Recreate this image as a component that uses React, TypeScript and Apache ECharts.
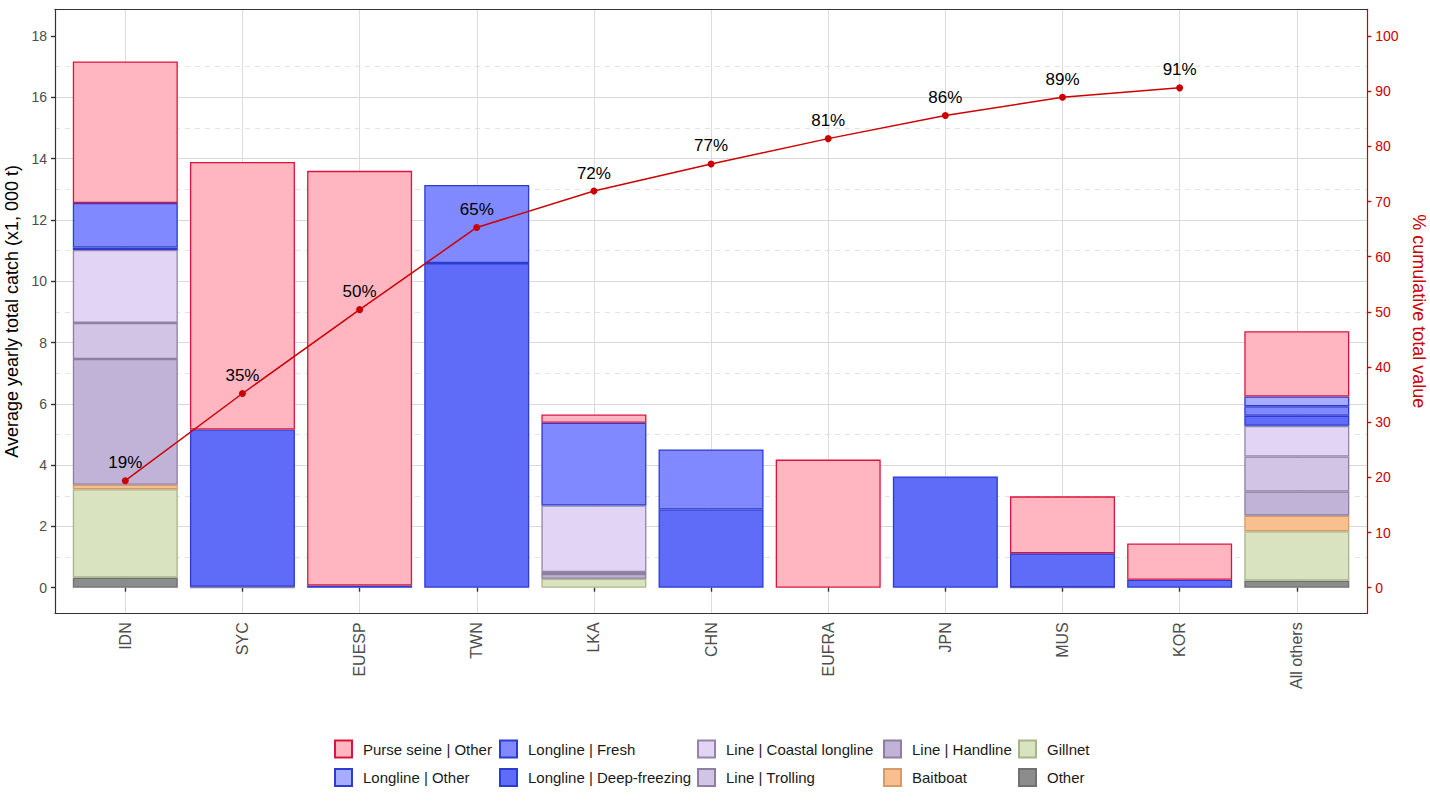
import React, { useEffect, useRef } from 'react';
import * as echarts from 'echarts';

const categories = ['IDN', 'SYC', 'EUESP', 'TWN', 'LKA', 'CHN', 'EUFRA', 'JPN', 'MUS', 'KOR', 'All others'];

const purseSeineOther = [4.62, 8.73, 13.53, null, 0.27, null, 4.18, null, 1.86, 1.18, 2.13];
const longlineOther = [null, null, null, null, null, null, null, null, null, null, 0.32];
const longlineFresh = [1.45, null, null, 2.55, 2.7, 1.96, null, null, null, null, 0.31];
const longlineDeepFreezing = [0.08, 5.13, 0.07, 10.59, null, 2.55, null, 3.63, 1.11, 0.26, 0.33];
const lineCoastalLongline = [2.38, null, null, null, 2.17, null, null, null, null, null, 1.0];
const lineTrolling = [1.18, 0.02, null, null, 0.06, null, null, null, 0.01, null, 1.14];
const lineHandline = [4.1, 0.01, null, null, 0.16, null, null, null, null, null, 0.79];
const baitboat = [0.15, null, null, null, null, null, null, null, null, null, 0.51];
const gillnet = [2.88, null, null, null, 0.29, null, null, null, null, null, 1.61];
const other = [0.33, null, null, null, null, null, null, null, null, null, 0.23];

const cumulativePct = [19.4, 35.2, 50.4, 65.3, 71.9, 76.8, 81.4, 85.6, 88.9, 90.6, null];

const leftTicks = [0, 2, 4, 6, 8, 10, 12, 14, 16, 18];
const rightTicks = [0, 10, 20, 30, 40, 50, 60, 70, 80, 90, 100];

const FONT = '"Liberation Sans", Arial, sans-serif';
const RED = '#CC0000';

// stacking order bottom -> top
const barSeries = [
  { name: 'Other', data: other, fill: '#8C8C8C', border: '#707070' },
  { name: 'Gillnet', data: gillnet, fill: '#D9E3BF', border: '#A9B48A' },
  { name: 'Baitboat', data: baitboat, fill: '#F9C08F', border: '#D79A68' },
  { name: 'Line | Handline', data: lineHandline, fill: '#C1B3D8', border: '#8D7FA0' },
  { name: 'Line | Trolling', data: lineTrolling, fill: '#D1C4E5', border: '#8D7FA0' },
  { name: 'Line | Coastal longline', data: lineCoastalLongline, fill: '#E1D4F5', border: '#9485A8' },
  { name: 'Longline | Deep-freezing', data: longlineDeepFreezing, fill: '#5F6CF8', border: '#2C3BD0' },
  { name: 'Longline | Fresh', data: longlineFresh, fill: '#8089FF', border: '#2C3BD0' },
  { name: 'Longline | Other', data: longlineOther, fill: '#A6ADFF', border: '#2C3BD0' },
  { name: 'Purse seine | Other', data: purseSeineOther, fill: '#FFB6C1', border: '#DC143C' },
];

const legendColumns = [
  ['Purse seine | Other', 'Longline | Other'],
  ['Longline | Fresh', 'Longline | Deep-freezing'],
  ['Line | Coastal longline', 'Line | Trolling'],
  ['Line | Handline', 'Baitboat'],
  ['Gillnet', 'Other'],
];
const legendLefts = [334, 499, 697, 883, 1018];

// pixel geometry of the panel
const PANEL_LEFT = 55;
const PANEL_RIGHT = 1367.3;
const PANEL_TOP = 9.3;
const PANEL_BOTTOM = 613.3;
const ZERO_Y = 587.7;
const PX_PER_UNIT = 30.65;
const PX_PER_PCT = PX_PER_UNIT * 0.18;
const FIRST_CENTER = 125.3;
const LAST_CENTER = 1296.8;
const W = 1430;
const H = 804;

const yMin = -(PANEL_BOTTOM - ZERO_Y) / PX_PER_UNIT;
const yMax = (ZERO_Y - PANEL_TOP) / PX_PER_UNIT;
const pMin = -(PANEL_BOTTOM - ZERO_Y) / PX_PER_PCT;
const pMax = (ZERO_Y - PANEL_TOP) / PX_PER_PCT;

export default function App() {
  const ref = useRef<HTMLDivElement>(null);

  useEffect(() => {
    document.body.style.margin = '0';
    const chart = echarts.init(ref.current!, null, { renderer: 'svg' });

    const gridA = {
      left: PANEL_LEFT, right: W - PANEL_RIGHT, top: PANEL_TOP, bottom: H - PANEL_BOTTOM,
      outerBoundsMode: 'none', containLabel: false,
    };
    const gridB = {
      left: FIRST_CENTER, right: W - LAST_CENTER, top: PANEL_TOP, bottom: H - PANEL_BOTTOM,
      outerBoundsMode: 'none', containLabel: false,
    };
    const gridC = {
      left: PANEL_LEFT,
      right: W - PANEL_RIGHT,
      top: ZERO_Y - 19 * PX_PER_UNIT,
      bottom: H - (ZERO_Y + PX_PER_UNIT),
      outerBoundsMode: 'none', containLabel: false,
    };

    const option: any = {
      animation: false,
      textStyle: { fontFamily: FONT },
      grid: [gridA, gridB, gridC],
      legend: legendColumns.map((names, i) => ({
        orient: 'vertical',
        left: legendLefts[i],
        top: 739.5,
        padding: 0,
        itemWidth: 17,
        itemHeight: 17,
        itemGap: 9.5,
        selectedMode: false,
        icon: 'rect',
        data: names,
        textStyle: { fontFamily: FONT, fontSize: 15, color: '#1A1A1A', padding: [0, 0, 0, 6] },
      })),
      xAxis: [
        {
          type: 'value', gridIndex: 0, min: 0, max: 1, position: 'bottom',
          axisLine: { show: true, onZero: false, lineStyle: { color: '#333', width: 1.2 } },
          axisTick: { show: false }, axisLabel: { show: false }, splitLine: { show: false },
        },
        {
          type: 'category', gridIndex: 1, data: categories, boundaryGap: false,
          axisLine: { show: false },
          axisTick: { show: true, length: 4, lineStyle: { color: '#333', width: 1.4 } },
          axisLabel: { rotate: 90, margin: 9, fontSize: 16, color: '#4D4D4D', fontFamily: FONT, interval: 0 },
          splitLine: { show: true, lineStyle: { color: '#DCDCDC', width: 1 } },
        },
        {
          type: 'value', gridIndex: 2, min: 0, max: 1, show: false,
        },
        {
          type: 'value', gridIndex: 0, min: 0, max: 1, position: 'top',
          axisLine: { show: true, onZero: false, lineStyle: { color: '#333', width: 1.2 } },
          axisTick: { show: false }, axisLabel: { show: false }, splitLine: { show: false },
        },
      ],
      yAxis: [
        {
          type: 'value', gridIndex: 0, min: yMin, max: yMax, splitNumber: 10, position: 'left',
          name: 'Average yearly total catch (x1, 000 t)', nameLocation: 'middle', nameGap: 25,
          nameTextStyle: { fontSize: 18, color: '#000', fontFamily: FONT },
          axisLine: { show: true, onZero: false, lineStyle: { color: '#333', width: 1.2 } },
          axisTick: { show: true, length: 4, customValues: leftTicks, lineStyle: { color: '#333', width: 1.4 } },
          axisLabel: {
            customValues: leftTicks,
            fontSize: 14, color: '#4D4D4D', margin: 8, fontFamily: FONT,
          },
          splitLine: { show: true, showMinLine: false, showMaxLine: false, lineStyle: { color: '#D9D9D9', width: 1 } },
        },
        {
          type: 'value', gridIndex: 0, min: pMin, max: pMax, splitNumber: 11, position: 'right',
          name: '% cumulative total value', nameLocation: 'middle', nameGap: 33, nameRotate: -90,
          nameTextStyle: { fontSize: 18, color: RED, fontFamily: FONT },
          axisLine: { show: true, onZero: false, lineStyle: { color: RED, width: 1.2 } },
          axisTick: { show: true, length: 4, customValues: rightTicks, lineStyle: { color: RED, width: 1.4 } },
          axisLabel: {
            customValues: rightTicks,
            fontSize: 14, color: RED, margin: 8, fontFamily: FONT,
          },
          splitLine: { show: false },
        },
        { type: 'value', gridIndex: 1, min: yMin, max: yMax, show: false, splitLine: { show: false } },
        { type: 'value', gridIndex: 1, min: pMin, max: pMax, show: false, splitLine: { show: false } },
        {
          type: 'value', gridIndex: 2, min: -1, max: 19, interval: 2,
          axisLine: { show: false }, axisTick: { show: false }, axisLabel: { show: false },
          splitLine: {
            show: true, showMinLine: false, showMaxLine: false,
            lineStyle: { color: '#E3E3E3', width: 1, type: [5, 5] },
          },
        },
      ],
      series: [
        ...barSeries.map((s) => ({
          type: 'bar',
          name: s.name,
          xAxisIndex: 1,
          yAxisIndex: 2,
          stack: 'catch',
          barWidth: 105,
          clip: false,
          data: s.data,
          itemStyle: { color: s.fill, borderColor: s.border, borderWidth: 1.3 },
        })),
        {
          type: 'line',
          name: 'cumulative',
          xAxisIndex: 1,
          yAxisIndex: 3,
          data: cumulativePct,
          symbol: 'circle',
          symbolSize: 7,
          clip: false,
          z: 5,
          itemStyle: { color: RED },
          lineStyle: { color: RED, width: 1.5 },
          label: {
            show: true,
            position: 'top',
            distance: 6,
            fontSize: 17,
            color: '#000',
            fontFamily: FONT,
            formatter: (p: any) => Math.round(p.value) + '%',
          },
        },
      ],
    };

    chart.setOption(option);
    return () => chart.dispose();
  }, []);

  return <div ref={ref} style={{ width: W, height: H }} />;
}
